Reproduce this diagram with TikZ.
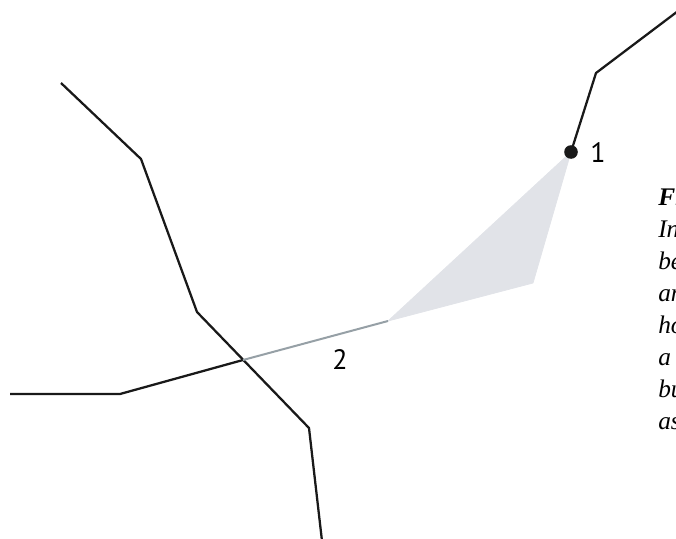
\documentclass[tikz,border=0pt]{standalone}
\usepackage{fontspec}
\newfontfamily\labfont{PT Sans}
\newfontfamily\capfont{Liberation Serif}
\begin{document}
\begin{tikzpicture}[x=0.75pt,y=-0.75pt,
  road/.style={draw=black!90, line width=1.7pt, line join=round},
  lab/.style={font=\labfont\fontsize{21}{24}\selectfont, inner sep=0pt},
  captxt/.style={font=\capfont\fontsize{19}{22}\selectfont\itshape, inner sep=0pt, anchor=base west}]
\useasboundingbox (0,0) rectangle (676,539);
\clip (0,0) rectangle (676,539);
\definecolor{areafill}{RGB}{225,227,232}
\definecolor{greyline}{RGB}{150,160,166}
% coordinates
\coordinate (a1) at (61,83);
\coordinate (a2) at (141,159);
\coordinate (a3) at (197,312);
\coordinate (a4) at (309,428);
\coordinate (a5) at (322,541);
\coordinate (b1) at (10,394);
\coordinate (b2) at (120,394);
\coordinate (x) at (243,360);
\coordinate (p2) at (388,321);
\coordinate (p1) at (571,152);
\coordinate (p3) at (533,283);
\coordinate (c2) at (596,73);
\coordinate (c3) at (692,0.5);
% shaded area
\filldraw[fill=areafill, draw=areafill, line width=0.6pt, line join=round] (p2) -- (p1) -- (p3) -- cycle;
% roads
\draw[road] (a1) -- (a2) -- (a3) -- (a4) -- (a5);
\draw[road] (b1) -- (b2) -- (x);
\draw[draw=greyline, line width=1.5pt] (x) -- (p2);
\draw[road] (p1) -- (c2) -- (c3);
\fill[black!90] (p1) circle (6.8);
% labels
\node[lab] (l1) at (598,153) {1};
\node[lab] (l2) at (340,360) {2};
% caption fragments (cut by the right edge)
\node[captxt, font=\capfont\fontsize{19}{22}\selectfont\bfseries\itshape] (t1) at (658,205) {Fi};
\node[captxt] (t2) at (658,237) {In};
\node[captxt] (t3) at (658,269) {be};
\node[captxt] (t4) at (658,301) {an};
\node[captxt] (t5) at (658,333) {ho};
\node[captxt] (t6) at (658,365) {a};
\node[captxt] (t7) at (658,397) {bu};
\node[captxt] (t8) at (658,429) {as};
\end{tikzpicture}
\end{document}
